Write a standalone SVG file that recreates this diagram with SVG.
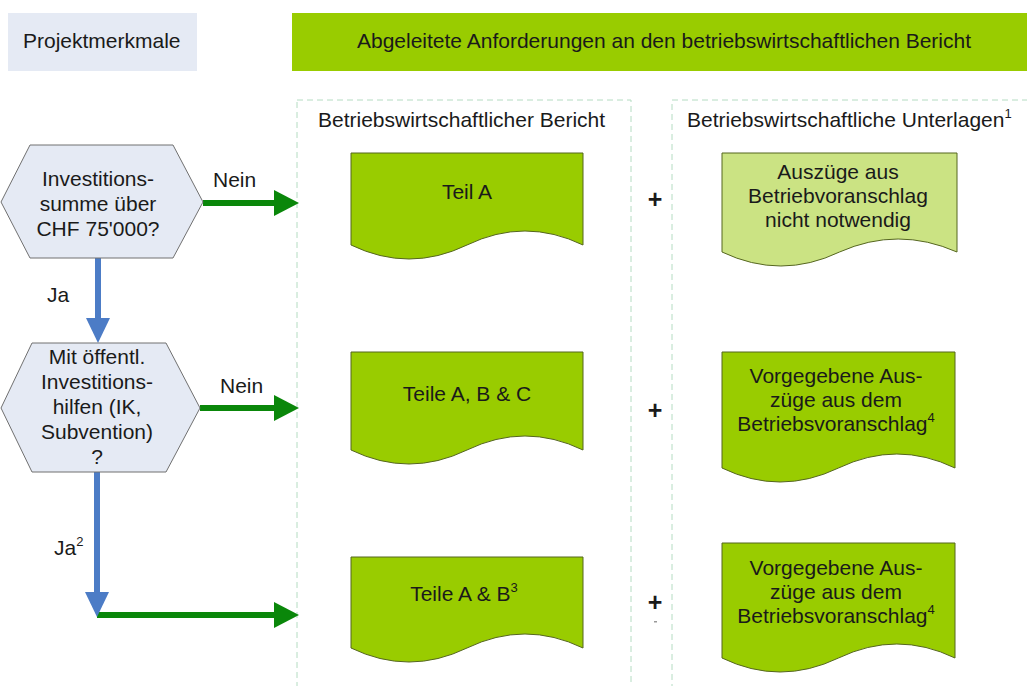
<svg xmlns="http://www.w3.org/2000/svg" width="1027" height="686" viewBox="0 0 1027 686">
<defs>
<style>
text{font-family:"Liberation Sans",Arial,sans-serif;font-size:21px;fill:#1a1a1a}
.c{text-anchor:middle}
.hex{fill:#e5eaf4;stroke:#707070;stroke-width:1}
.doc{fill:#99cc00;stroke:#55661f;stroke-width:1}
.docl{fill:#cbe383;stroke:#55661f;stroke-width:1}
.col{fill:none;stroke:#b4dcc2;stroke-width:1;stroke-dasharray:6 4}
.g{stroke:#0a870a;stroke-width:6;fill:none;marker-end:url(#ag)}
.b{stroke:#4c7cc6;stroke-width:6;fill:none;marker-end:url(#ab)}
.sup{font-size:13px}
.plus{font-size:25px;font-weight:bold}
</style>
<marker id="ag" markerUnits="userSpaceOnUse" markerWidth="26" markerHeight="27" refX="12" refY="13" orient="auto"><path d="M0,0 L25,13 L0,26 Z" fill="#0a870a"/></marker>
<marker id="ab" markerUnits="userSpaceOnUse" markerWidth="26" markerHeight="25" refX="12" refY="12" orient="auto"><path d="M0,0 L25,12 L0,24 Z" fill="#4c7cc6"/></marker>
</defs>
<rect width="1027" height="686" fill="#ffffff"/>

<g id="hdr-projekt">
<rect x="8" y="13" width="189" height="58" fill="#e5eaf4"/>
<text x="23" y="48">Projektmerkmale</text>
</g>
<g id="hdr-anforderungen">
<rect x="292" y="13" width="740" height="58" fill="#99cc00"/>
<text class="c" x="664" y="48">Abgeleitete Anforderungen an den betriebswirtschaftlichen Bericht</text>
</g>

<g id="col-bericht">
<rect class="col" x="297" y="100" width="334" height="620"/>
<text x="318" y="127">Betriebswirtschaftlicher Bericht</text>
</g>
<g id="col-unterlagen">
<rect class="col" x="672" y="100" width="380" height="620"/>
<text x="687" y="127">Betriebswirtschaftliche Unterlagen<tspan class="sup" dy="-9">1</tspan></text>
</g>

<g id="connectors">
<line class="g" x1="203" y1="203" x2="286" y2="203"/>
<line class="g" x1="200" y1="408" x2="286" y2="408"/>
<line class="g" x1="97" y1="615" x2="286" y2="615"/>
<line class="b" x1="98" y1="258" x2="98" y2="330"/>
<line class="b" x1="97" y1="472" x2="97" y2="604"/>
<text x="213" y="187">Nein</text>
<text x="220" y="393">Nein</text>
<text x="47" y="302">Ja</text>
<text x="54" y="555">Ja<tspan class="sup" dy="-9">2</tspan></text>
</g>

<g id="q-investitionssumme">
<polygon class="hex" points="1,202 30,145 173,145 203,202 173,258 30,258"/>
<text class="c" x="98" y="186">Investitions-</text>
<text class="c" x="98" y="211">summe über</text>
<text class="c" x="98" y="236">CHF 75'000?</text>
</g>
<g id="q-investitionshilfen">
<polygon class="hex" points="1,408 32,343 166,343 200,408 166,472 32,472"/>
<text class="c" x="97" y="364">Mit öffentl.</text>
<text class="c" x="97" y="389">Investitions-</text>
<text class="c" x="97" y="414">hilfen (IK,</text>
<text class="c" x="97" y="439">Subvention)</text>
<text class="c" x="97" y="464">?</text>
</g>

<g id="doc-teil-a">
<path class="doc" d="M351,153 H583 V245 Q525,217 467,245 Q409,273 351,245 Z"/>
<text class="c" x="467" y="199">Teil A</text>
</g>
<g id="doc-teile-abc">
<path class="doc" d="M351,352 H583 V450 Q525,422 467,450 Q409,478 351,450 Z"/>
<text class="c" x="467" y="401">Teile A, B &amp; C</text>
</g>
<g id="doc-teile-ab">
<path class="doc" d="M351,557 H583 V648 Q525,620 467,648 Q409,676 351,648 Z"/>
<text class="c" x="464" y="601">Teile A &amp; B<tspan class="sup" dy="-9">3</tspan></text>
</g>

<g id="plus-signs">
<text class="c plus" x="655" y="208">+</text>
<text class="c plus" x="655" y="419">+</text>
<text class="c plus" x="655" y="611">+</text>
<rect x="654" y="621" width="3" height="1.5" fill="#999999"/>
</g>

<g id="doc-auszuege-nicht">
<path class="docl" d="M722,153 H957 V252 Q898,226 839.5,252 Q781,280 722,252 Z"/>
<text class="c" x="838" y="179">Auszüge aus</text>
<text class="c" x="838" y="203">Betriebvoranschlag</text>
<text class="c" x="838" y="227">nicht notwendig</text>
</g>
<g id="doc-auszuege-2">
<path class="doc" d="M722,352 H955 V468 Q897,440 838.5,468 Q780,496 722,468 Z"/>
<text class="c" x="836" y="383">Vorgegebene Aus-</text>
<text class="c" x="836" y="407">züge aus dem</text>
<text class="c" x="836" y="431">Betriebsvoranschlag<tspan class="sup" dy="-9">4</tspan></text>
</g>
<g id="doc-auszuege-3">
<path class="doc" d="M722,543 H955 V658 Q897,630 838.5,658 Q780,686 722,658 Z"/>
<text class="c" x="836" y="575">Vorgegebene Aus-</text>
<text class="c" x="836" y="599">züge aus dem</text>
<text class="c" x="836" y="623">Betriebsvoranschlag<tspan class="sup" dy="-9">4</tspan></text>
</g>
</svg>
